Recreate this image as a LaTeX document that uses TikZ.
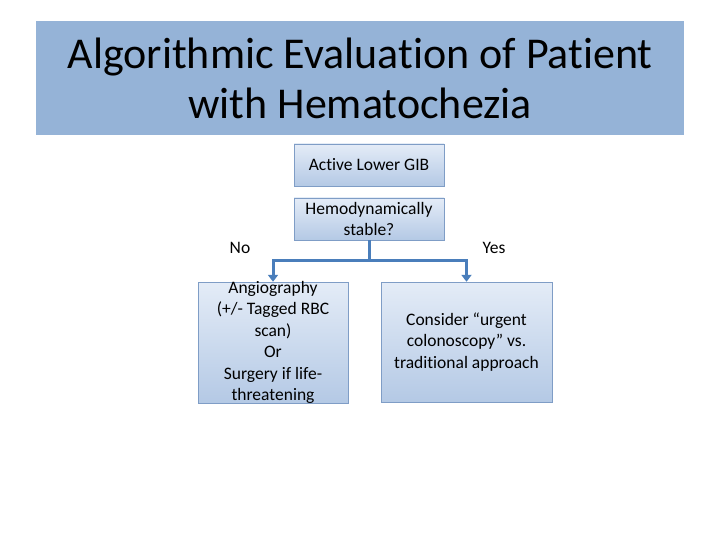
\documentclass[tikz,border=0pt]{standalone}
\usepackage{fontspec}
\setmainfont{Carlito}[Ligatures={NoCommon}]
\usetikzlibrary{arrows.meta, positioning}

\definecolor{band}{HTML}{95B3D7}
\definecolor{boxtop}{HTML}{E4ECF7}
\definecolor{boxbot}{HTML}{B4C9E5}
\definecolor{boxline}{HTML}{7F9DC6}
\definecolor{flow}{HTML}{4A7EBB}

\tikzset{
	stepbox/.style={draw=boxline, top color=boxtop, bottom color=boxbot, minimum width=150pt, minimum height=42pt, inner sep=0pt, align=center, font=\fontsize{17.5}{21.5}\selectfont},
	boxtext/.style={align=center, inner sep=0pt, font=\fontsize{17.5}{21.5}\selectfont},
	flowline/.style={flow, line width=3pt},
	answer/.style={font=\fontsize{17.5}{21}\selectfont},
}

\begin{document}
\begin{tikzpicture}[x=1pt, y=-1pt]
	\useasboundingbox (0,0) rectangle (720,540);

	\node[fill=band, anchor=north west, minimum width=648pt, minimum height=114pt, inner sep=0pt, align=center, font=\fontsize{44}{50}\selectfont] (title) at (36,21) {Algorithmic Evaluation of Patient\\with Hematochezia};

	\node[stepbox] (active) at (369,165) {Active Lower GIB};
	\node[stepbox] (stable) at (369,219) {Hemodynamically\\stable?};

	\node[stepbox, minimum height=121pt, label={[boxtext]center:Angiography\\(+/- Tagged RBC\\scan)\\Or\\Surgery if life-\\threatening}] (angio) at (273,342.5) {};
	\node[stepbox, minimum width=171pt, minimum height=120pt] (urgent) at (466.5,342) {Consider “urgent\\colonoscopy” vs.\\traditional approach};

	\node[answer] (no) at (240,248) {No};
	\node[answer] (yes) at (494,248) {Yes};

	\coordinate (split) at (369,260);
	\draw[flowline] (stable.south) -- (split);
	\draw[flowline, -{Triangle[width=10pt, length=7pt]}] (split) -| (angio.north);
	\draw[flowline, -{Triangle[width=10pt, length=7pt]}] (split) -| (urgent.north);
\end{tikzpicture}
\end{document}
